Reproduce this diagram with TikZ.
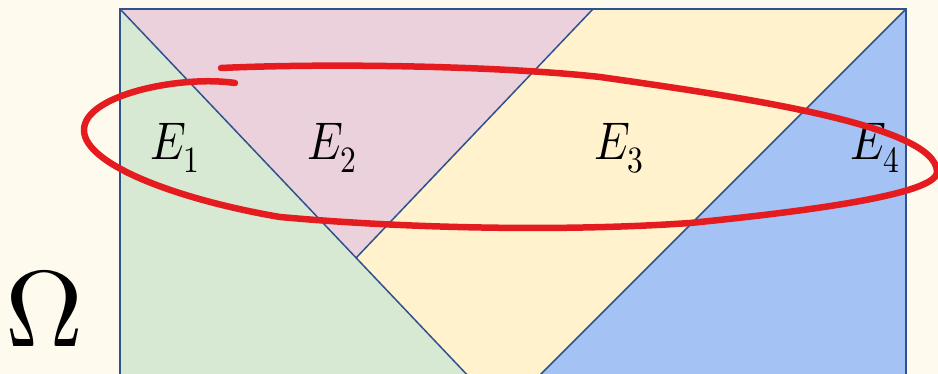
\documentclass[tikz,border=0pt]{standalone}
\usepackage{fontspec}
\usepackage{unicode-math}
\setmathfont{Latin Modern Math}
\definecolor{bgc}{RGB}{254,251,238}
\definecolor{edgec}{RGB}{47,82,143}
\definecolor{greenc}{RGB}{216,233,211}
\definecolor{pinkc}{RGB}{234,209,220}
\definecolor{yellowc}{RGB}{255,242,204}
\definecolor{bluec}{RGB}{164,194,244}
\definecolor{redc}{RGB}{228,28,32}
\tikzset{
  edgeline/.style={draw=edgec, line width=1.5pt},
  outline/.style={draw=edgec, line width=1.9pt},
  lasso/.style={draw=redc, line width=6.5pt, line cap=round, line join=round},
  elabel/.style={inner sep=0pt, xscale=0.85, font=\fontsize{53}{60}\selectfont},
  omegalabel/.style={inner sep=0pt, font=\fontsize{108}{120}\selectfont}
}
\begin{document}
\begin{tikzpicture}[x=1pt, y=-1pt]
  \useasboundingbox (0,0) rectangle (938,374);
  \clip (0,0) rectangle (938,374);
  \fill[bgc] (0,0) rectangle (938,374);
  % regions
  \fill[greenc] (120,9) -- (356,258) -- (472,380) -- (120,380) -- cycle;
  \fill[pinkc] (120,9) -- (593,9) -- (356,258) -- cycle;
  \fill[yellowc] (593,9) -- (906,9) -- (535,380) -- (472,380) -- (356,258) -- cycle;
  \fill[bluec] (906,9) -- (906,380) -- (535,380) -- cycle;
  % edges
  \draw[edgeline] (120,9) -- (472,380);
  \draw[edgeline] (593,9) -- (356,258);
  \draw[edgeline] (906,9) -- (535,380);
  \draw[outline] (120,380) -- (120,9) -- (906,9) -- (906,380);
  % labels
  \node[elabel] (e1) at (175,148) {$E_1$};
  \node[elabel] (e2) at (332,148) {$E_2$};
  \node[elabel] (e3) at (619,148) {$E_3$};
  \node[elabel] (e4) at (875,148) {$E_4$};
  \node[omegalabel] (om) at (44,308) {$\Omega$};
  % red lasso
  \draw[lasso] (221,68) .. controls (330,63) and (500,66) .. (600,77)
    .. controls (740,97) and (937,125) .. (937,172)
    .. controls (937,195) and (800,212) .. (690,223)
    .. controls (560,232) and (400,228) .. (280,217)
    .. controls (180,200) and (84,165) .. (84,130)
    .. controls (84,95) and (180,75) .. (235,83);
\end{tikzpicture}
\end{document}
